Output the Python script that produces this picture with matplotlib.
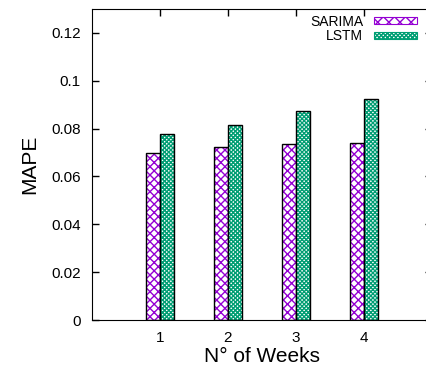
import numpy as np
import matplotlib.pyplot as plt
from matplotlib.patches import Patch

plt.rcParams['font.family'] = ['Liberation Sans', 'DejaVu Sans']
plt.rcParams['hatch.linewidth'] = 1.0

weeks = [1, 2, 3, 4]
sarima = [0.0697, 0.0725, 0.0736, 0.0739]
lstm = [0.0776, 0.0814, 0.0872, 0.0923]

purple = '#9400D3'
green = '#009E73'
w = 0.2
hatch_s = 'xxxx'
hatch_l = 'xxxxxxxx'

fig = plt.figure(figsize=(4.27, 3.72), dpi=100)
ax = fig.add_axes([92/427, 52/372, 340/427, 311/372])

x = np.array(weeks)
# hatched fill, then black outline on top
ax.bar(x - w/2, sarima, w, facecolor='white', edgecolor=purple, hatch=hatch_s, linewidth=0)
ax.bar(x - w/2, sarima, w, fill=False, edgecolor='black', linewidth=1)
ax.bar(x + w/2, lstm, w, facecolor='white', edgecolor=green, hatch=hatch_l, linewidth=0)
ax.bar(x + w/2, lstm, w, fill=False, edgecolor='black', linewidth=1)

ax.set_xlim(0, 5)
ax.set_ylim(0, 0.13)
ax.set_xticks(weeks)
ax.set_yticks([0, 0.02, 0.04, 0.06, 0.08, 0.1, 0.12])
ax.set_yticklabels(['0', '0.02', '0.04', '0.06', '0.08', '0.1', '0.12'])
ax.tick_params(direction='in', length=5, top=True, right=True, labelsize=11, width=1, pad=8)
ax.spines['right'].set_visible(False)

ax.set_xlabel('N° of Weeks', fontsize=15, labelpad=1)
ax.set_ylabel('MAPE', fontsize=15, labelpad=9)

h1 = Patch(facecolor='white', edgecolor=purple, hatch='xxx', linewidth=0.8)
h2 = Patch(facecolor='white', edgecolor=green, hatch=hatch_l, linewidth=0.8)
ax.legend([h1, h2], ['SARIMA', 'LSTM'], loc='upper right', bbox_to_anchor=(0.971, 1.0),
          frameon=False, markerfirst=False, fontsize=10, handlelength=3.1,
          handleheight=0.45, labelspacing=0.05, handletextpad=0.75, borderaxespad=0)

fig.savefig('out.png', dpi=100)
